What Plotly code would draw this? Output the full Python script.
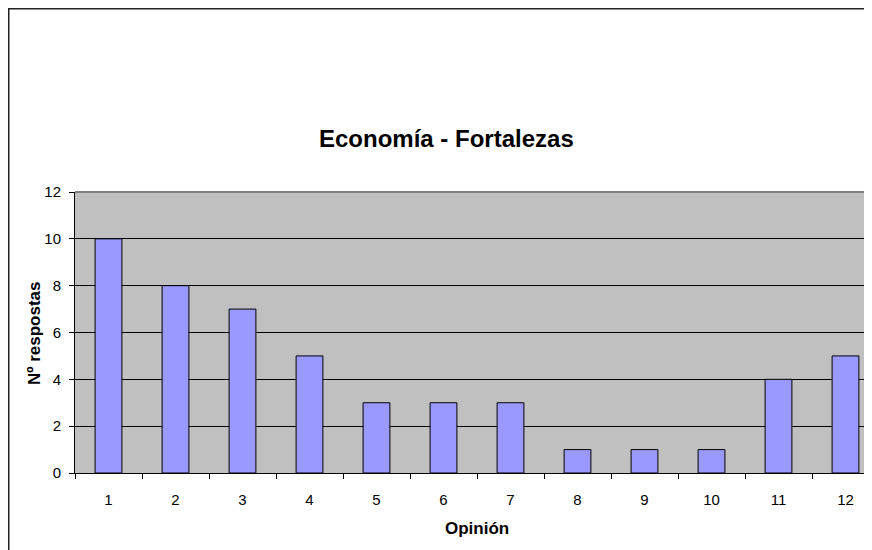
import plotly.graph_objects as go

categories = ["1", "2", "3", "4", "5", "6", "7", "8", "9", "10", "11", "12"]
values = [10, 8, 7, 5, 3, 3, 3, 1, 1, 1, 4, 5]
title_text = "Economía - Fortalezas"
x_title = "Opinión"
y_title = "Nº respostas"

# the page body adds an 8px margin, so the figure starts at page (8, 8)
W, H = 864, 542
ML, MR, MT, MB = 67, 0, 184, 77
PW, PH = W - ML - MR, H - MT - MB


def px_x(p):
    return (p - ML) / PW


def px_y(p):
    return (H - MB - p) / PH


FONT = "Liberation Sans, Arial, sans-serif"

fig = go.Figure(
    go.Bar(
        x=categories,
        y=values,
        width=0.4,
        marker=dict(color="#9999FF", line=dict(color="#000000", width=1)),
    )
)

fig.update_layout(
    width=W,
    height=H,
    margin=dict(l=ML, r=MR, t=MT, b=MB, pad=0),
    paper_bgcolor="white",
    plot_bgcolor="#C0C0C0",
    showlegend=False,
    font=dict(family=FONT, color="#000000", size=15),
)

fig.update_xaxes(
    type="category",
    range=[-0.5, -0.5 + PW / 67.0],
    tickson="boundaries",
    ticks="outside",
    ticklen=5,
    tickcolor="#000000",
    tickwidth=1,
    showline=True,
    linecolor="#000000",
    linewidth=1,
    showgrid=False,
    tickfont=dict(size=15, family=FONT),
    ticklabelstandoff=13,
)

fig.update_yaxes(
    range=[0, 12],
    tickvals=[0, 2, 4, 6, 8, 10, 12],
    ticks="outside",
    ticklen=5,
    tickcolor="#000000",
    tickwidth=1,
    showline=True,
    linecolor="#000000",
    linewidth=1,
    showgrid=True,
    gridcolor="#000000",
    gridwidth=1,
    zeroline=False,
    tickfont=dict(size=15, family=FONT),
    ticklabelstandoff=5,
)

# plot area top border
fig.add_shape(type="line", xref="paper", yref="paper",
              x0=0, x1=1, y0=1, y1=1,
              line=dict(color="#808080", width=2), layer="above")

# outer chart border (clipped by the window)
fig.add_shape(type="line", xref="paper", yref="paper",
              x0=px_x(0.5), x1=px_x(0.5), y0=px_y(H + 4), y1=px_y(0),
              line=dict(color="#222222", width=2), layer="above")
fig.add_shape(type="line", xref="paper", yref="paper",
              x0=px_x(0), x1=px_x(W + 4), y0=px_y(0.5), y1=px_y(0.5),
              line=dict(color="#222222", width=2), layer="above")

fig.add_annotation(text="<b>" + title_text + "</b>", xref="paper", yref="paper",
                   x=px_x(438), y=px_y(130), xanchor="center", yanchor="middle",
                   showarrow=False, font=dict(size=24, family=FONT))
fig.add_annotation(text="<b>" + x_title + "</b>", xref="paper", yref="paper",
                   x=px_x(469), y=px_y(520), xanchor="center", yanchor="middle",
                   showarrow=False, font=dict(size=17, family=FONT))
fig.add_annotation(text="<b>" + y_title + "</b>", xref="paper", yref="paper",
                   x=px_x(26), y=px_y(325), xanchor="center", yanchor="middle",
                   textangle=-90, showarrow=False, font=dict(size=17, family=FONT))

fig.write_html("out.html")
